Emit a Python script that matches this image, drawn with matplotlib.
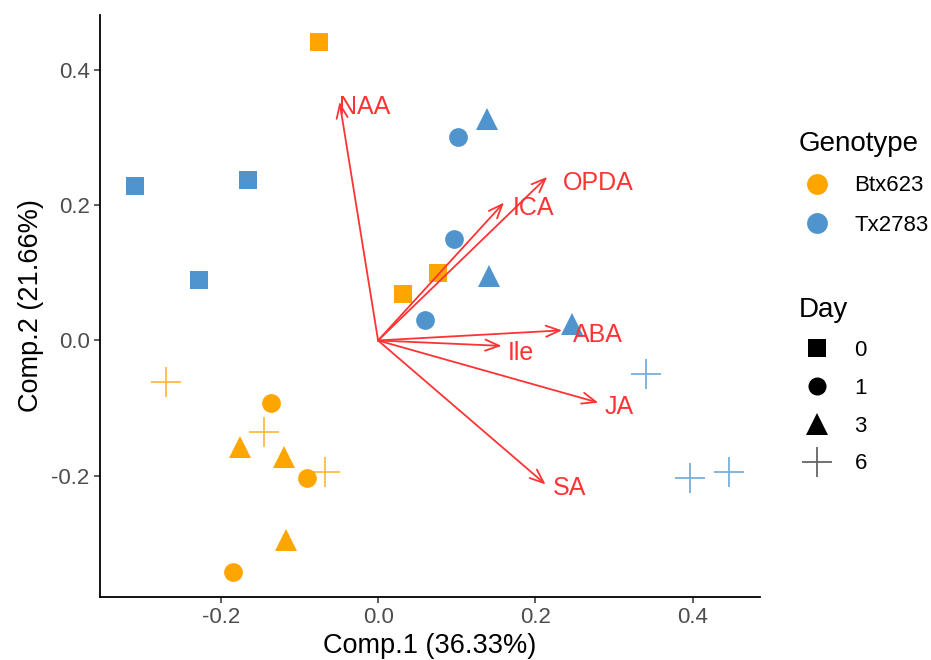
import matplotlib

matplotlib.use("Agg")
import matplotlib.pyplot as plt  # noqa: E402
from matplotlib.lines import Line2D  # noqa: E402

plt.rcParams["font.family"] = ["Liberation Sans", "DejaVu Sans"]

# sample scores (PC1, PC2)
comp1 = [-0.075, 0.076, 0.032,        # Btx623 day 0
         -0.136, -0.090, -0.185,      # Btx623 day 1
         -0.176, -0.119, -0.117,      # Btx623 day 3
         -0.270, -0.145, -0.067,      # Btx623 day 6
         -0.309, -0.165, -0.228,      # Tx2783 day 0
         0.101, 0.096, 0.060,         # Tx2783 day 1
         0.139, 0.141, 0.247,         # Tx2783 day 3
         0.340, 0.396, 0.446]         # Tx2783 day 6
comp2 = [0.442, 0.100, 0.069,
         -0.092, -0.204, -0.342,
         -0.158, -0.173, -0.295,
         -0.061, -0.135, -0.195,
         0.229, 0.237, 0.090,
         0.301, 0.150, 0.030,
         0.327, 0.095, 0.024,
         -0.049, -0.203, -0.195]
genotype = ["Btx623"] * 12 + ["Tx2783"] * 12
day = ([0] * 3 + [1] * 3 + [3] * 3 + [6] * 3) * 2

# loadings
hormones = ["NAA", "OPDA", "ICA", "ABA", "Ile", "JA", "SA"]
load1 = [-0.049, 0.215, 0.160, 0.234, 0.157, 0.280, 0.213]
load2 = [0.353, 0.242, 0.204, 0.015, -0.008, -0.092, -0.213]
lab1 = [-0.017, 0.280, 0.197, 0.279, 0.181, 0.306, 0.243]
lab2 = [0.346, 0.233, 0.196, 0.008, -0.018, -0.098, -0.218]

GENO_COLORS = {"Btx623": "#FFA500", "Tx2783": "#4F94CD"}
DAY_MARKERS = {0: ("s", 13.5), 1: ("o", 13.5), 3: ("^", 16.5), 6: ("+", 21)}
RED = "#FF3333"

fig = plt.figure(figsize=(9.31, 6.6), dpi=100)
ax = fig.add_axes([100 / 931, 63 / 660, 660 / 931, 582 / 660])

for x, y, g, d in zip(comp1, comp2, genotype, day):
    m, ms = DAY_MARKERS[d]
    if m == "+":
        ax.plot(x, y, m, ms=ms, mew=1.3, color=GENO_COLORS[g], alpha=0.75, zorder=2)
    else:
        ax.plot(x, y, m, ms=ms, mew=0, color=GENO_COLORS[g], zorder=2)

for h, x, y, tx, ty in zip(hormones, load1, load2, lab1, lab2):
    ax.annotate("", xy=(x, y), xytext=(0, 0),
                arrowprops=dict(arrowstyle="->,head_length=1.0,head_width=0.4",
                                color=RED, lw=1.3, shrinkA=0, shrinkB=0), zorder=3)
    ax.text(tx, ty, h, color=RED, fontsize=18, ha="center", va="center", zorder=4)

ax.set_xlim(-0.3535, 0.4855)
ax.set_ylim(-0.3795, 0.4815)
ax.set_xticks([-0.2, 0.0, 0.2, 0.4])
ax.set_yticks([-0.2, 0.0, 0.2, 0.4])
ax.set_xticklabels(["-0.2", "0.0", "0.2", "0.4"])
ax.set_yticklabels(["-0.2", "0.0", "0.2", "0.4"])
ax.tick_params(labelsize=16, labelcolor="#4D4D4D", color="#333333", length=4, width=1.1)
ax.spines[["top", "right"]].set_visible(False)
for s in ["left", "bottom"]:
    ax.spines[s].set_linewidth(1.3)
ax.set_xlabel("Comp.1 (36.33%)", fontsize=19.5, labelpad=3)
ax.set_ylabel("Comp.2 (21.66%)", fontsize=19.5, labelpad=5)

geno_handles = [Line2D([], [], ls="", marker="o", ms=15, mew=0, color=GENO_COLORS[g])
                for g in ["Btx623", "Tx2783"]]
leg1 = fig.legend(geno_handles, ["Btx623", "Tx2783"], title="Genotype", loc="upper left",
                  bbox_to_anchor=(790 / 931, 1 - 122 / 660), frameon=False, fontsize=16,
                  title_fontsize=20, alignment="left", handletextpad=0.9, labelspacing=0.83,
                  borderaxespad=0, handlelength=1.6)
day_handles = []
for d in [0, 1, 3, 6]:
    m, ms = DAY_MARKERS[d]
    if m == "+":
        day_handles.append(Line2D([], [], ls="", marker=m, ms=ms, mew=1.3, color="black", alpha=0.6))
    else:
        day_handles.append(Line2D([], [], ls="", marker=m, ms=ms - 0.5, mew=0, color="black"))
leg2 = fig.legend(day_handles, ["0", "1", "3", "6"], title="Day", loc="upper left",
                  bbox_to_anchor=(790 / 931, 1 - 288 / 660), frameon=False, fontsize=16,
                  title_fontsize=20, alignment="left", handletextpad=0.9, labelspacing=0.76,
                  borderaxespad=0, handlelength=1.6)

fig.savefig("out.png", dpi=100)
